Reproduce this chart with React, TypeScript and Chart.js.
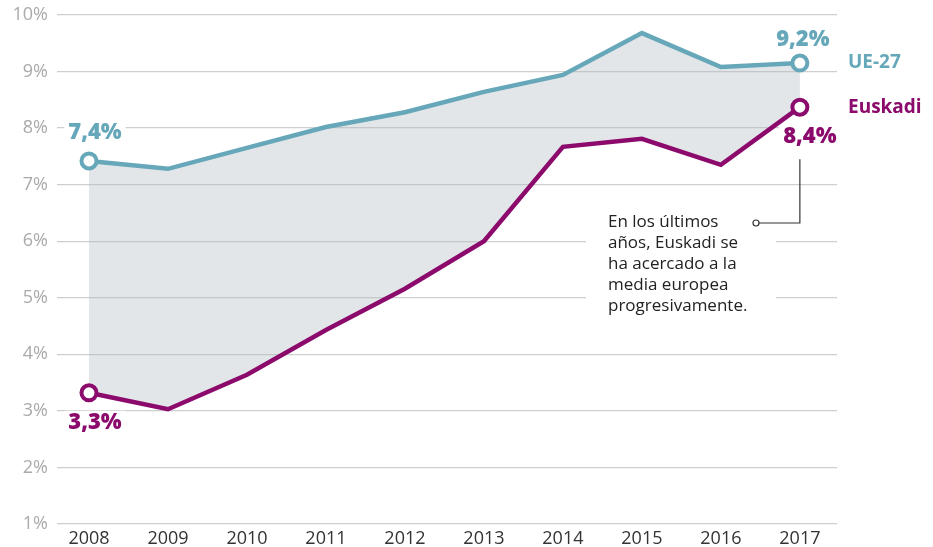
import React, { useEffect, useRef } from "react";
import { Chart, registerables } from "chart.js";
Chart.register(...registerables);

const years = [2008, 2009, 2010, 2011, 2012, 2013, 2014, 2015, 2016, 2017];
const ue27 = [7.42, 7.28, 7.65, 8.02, 8.28, 8.64, 8.94, 9.68, 9.08, 9.15];
const euskadi = [3.32, 3.03, 3.64, 4.43, 5.16, 6.0, 7.67, 7.81, 7.35, 8.37];
const yTicks = [1, 2, 3, 4, 5, 6, 7, 8, 9, 10];
const seriesNames = ["UE-27", "Euskadi"];
const endLabels = { ue27: ["7,4%", "9,2%"], euskadi: ["3,3%", "8,4%"] };
const note = ["En los últimos", "años, Euskadi se", "ha acercado a la", "media europea", "progresivamente."];

const TEAL = "#66a7ba";
const PURPLE = "#8b0a6c";
const FONT = "'Open Sans', 'Noto Sans', sans-serif";

const overlay = {
  id: "overlay",
  afterDatasetsDraw(chart: any) {
    const ctx = chart.ctx;
    const x = chart.scales.x;
    const y = chart.scales.y;
    ctx.save();
    const label = (t: string, px: number, py: number, color: string, bg: boolean) => {
      ctx.font = `800 22px ${FONT}`;
      ctx.textAlign = "center";
      ctx.textBaseline = "middle";
      const w = ctx.measureText(t).width;
      if (bg) {
        ctx.fillStyle = "#fff";
        ctx.fillRect(px - w / 2 - 4, py - 12, w + 8, 24);
      }
      ctx.fillStyle = color;
      ctx.fillText(t, px, py);
    };
    const n = years.length - 1;
    label(endLabels.ue27[0], x.getPixelForValue(years[0]) + 6, y.getPixelForValue(ue27[0]) - 28, TEAL, true);
    label(endLabels.euskadi[0], x.getPixelForValue(years[0]) + 6, y.getPixelForValue(euskadi[0]) + 30, PURPLE, true);
    label(endLabels.ue27[1], x.getPixelForValue(years[n]) + 3, y.getPixelForValue(ue27[n]) - 23, TEAL, true);
    label(endLabels.euskadi[1], x.getPixelForValue(years[n]) + 10, y.getPixelForValue(euskadi[n]) + 30, PURPLE, true);

    // legend names
    ctx.font = `700 19px ${FONT}`;
    ctx.textAlign = "left";
    ctx.textBaseline = "middle";
    ctx.fillStyle = TEAL;
    ctx.fillText(seriesNames[0], x.right + 11, y.getPixelForValue(ue27[n]));
    ctx.fillStyle = PURPLE;
    ctx.fillText(seriesNames[1], x.right + 11, y.getPixelForValue(euskadi[n]));

    // annotation
    const nx = 608;
    const ny = 222;
    ctx.fillStyle = "#fff";
    ctx.fillRect(nx - 22, ny - 15, 190, 116);
    ctx.font = `500 17px ${FONT}`;
    ctx.fillStyle = "#222";
    ctx.textAlign = "left";
    note.forEach((l, i) => ctx.fillText(l, nx, ny + i * 21));
    const ex = x.getPixelForValue(years[n]);
    ctx.strokeStyle = "#333";
    ctx.lineWidth = 1.2;
    ctx.beginPath();
    ctx.moveTo(ex, y.getPixelForValue(euskadi[n]) + 52);
    ctx.lineTo(ex, ny + 1);
    ctx.lineTo(759, ny + 1);
    ctx.stroke();
    ctx.beginPath();
    ctx.arc(756, ny + 1, 3, 0, Math.PI * 2);
    ctx.fillStyle = "#fff";
    ctx.fill();
    ctx.stroke();
    ctx.restore();
  },
};

export default function App() {
  const ref = useRef<HTMLCanvasElement>(null);
  useEffect(() => {
    const n = years.length - 1;
    const radii = years.map((_, i) => (i === 0 || i === n ? 7.5 : 0));
    const chart = new Chart(ref.current!, {
      type: "line",
      data: {
        datasets: [
          {
            label: seriesNames[0],
            data: years.map((yr, i) => ({ x: yr, y: ue27[i] })),
            borderColor: TEAL,
            borderWidth: 4.5,
            pointRadius: radii,
            pointBorderWidth: 4,
            pointBackgroundColor: "#fff",
            pointBorderColor: TEAL,
            fill: "+1",
            backgroundColor: "rgba(175,184,192,0.35)",
            tension: 0,
          },
          {
            label: seriesNames[1],
            data: years.map((yr, i) => ({ x: yr, y: euskadi[i] })),
            borderColor: PURPLE,
            borderWidth: 4.5,
            pointRadius: radii,
            pointBorderWidth: 4,
            pointBackgroundColor: "#fff",
            pointBorderColor: PURPLE,
            fill: false,
            tension: 0,
          },
        ],
      },
      options: {
        animation: false,
        responsive: false,
        layout: { padding: { top: 15, right: 96, left: 0, bottom: 0 } },
        plugins: {
          legend: { display: false },
          tooltip: { enabled: false },
          filler: { drawTime: "beforeDatasetsDraw" } as any,
        },
        scales: {
          x: {
            type: "linear",
            min: 2007.595,
            max: 2017.47,
            afterBuildTicks: (s: any) => {
              s.ticks = years.map((v) => ({ value: v }));
            },
            afterFit: (s: any) => {
              s.height = 23;
              s.paddingLeft = 0;
              s.paddingRight = 0;
            },
            grid: { display: false, drawTicks: false },
            border: { display: false },
            ticks: {
              padding: 4,
              color: "#333",
              font: { family: FONT, size: 18 },
              callback: (v: any) => String(v),
              maxRotation: 0,
            },
          },
          y: {
            min: 1,
            max: 10,
            afterBuildTicks: (s: any) => {
              s.ticks = yTicks.map((v) => ({ value: v }));
            },
            afterFit: (s: any) => {
              s.width = 57;
              s.paddingTop = 0;
              s.paddingBottom = 0;
            },
            grid: { color: "#cfcfcf", lineWidth: 1.3, drawTicks: false },
            border: { display: false },
            ticks: {
              padding: 9,
              color: "#aaa",
              font: { family: FONT, size: 18 },
              callback: (v: any) => v + "%",
            },
          },
        },
      },
      plugins: [overlay],
    });
    return () => chart.destroy();
  }, []);
  return (
    <div style={{ position: "fixed", left: 0, top: 0, width: 933, height: 547, background: "#fff" }}>
      <canvas ref={ref} width={933} height={547} />
    </div>
  );
}
